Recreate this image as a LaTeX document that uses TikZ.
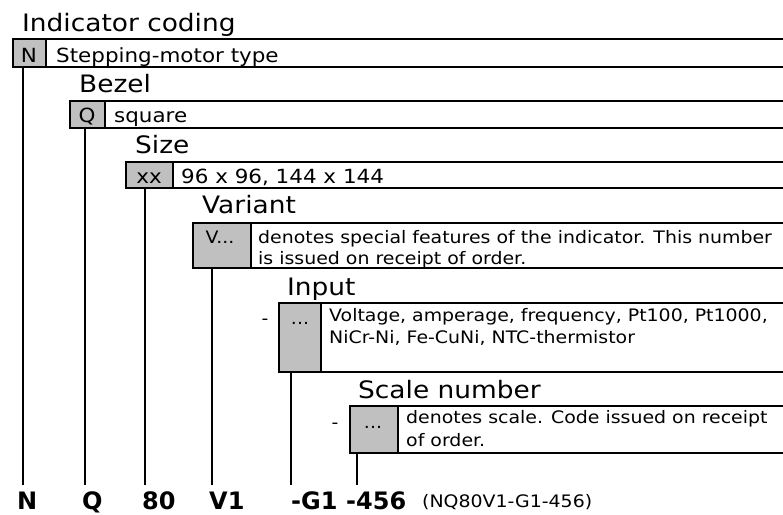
\documentclass[tikz,border=0pt]{standalone}
\usepackage{fontspec}
\setmainfont{DejaVu Sans}[FakeStretch=1.1]
\newfontfamily\labfont{DejaVu Sans}
\definecolor{boxgrey}{HTML}{C0C0C0}
\tikzset{
  titletext/.style={anchor=base west, inner sep=0pt, font=\fontsize{24}{28}\selectfont},
  rowtext/.style={anchor=base west, inner sep=0pt, font=\fontsize{19.5}{23}\selectfont},
  rowlab/.style={anchor=base, inner sep=0pt, font=\fontsize{19.5}{23}\selectfont},
  desctext/.style={anchor=base west, inner sep=0pt, font=\fontsize{17.2}{22}\selectfont},
  desclab/.style={anchor=base, inner sep=0pt, font=\fontsize{17.2}{22}\selectfont},
  codetext/.style={anchor=base west, inner sep=0pt, font=\labfont\bfseries\fontsize{24}{28}\selectfont},
  rowbox/.style={draw, line width=2pt, anchor=north west, inner sep=0pt},
  greybox/.style={draw, line width=2pt, fill=boxgrey, anchor=north west, inner sep=0pt},
  leader/.style={line width=2pt}
}
\begin{document}
\begin{tikzpicture}[x=1pt,y=-1pt]
\useasboundingbox (0,0) rectangle (783,514);

% titles
\node[titletext] (tInd) at (22,31) {Indicator coding};
\node[titletext] (tBez) at (79,92) {Bezel};
\node[titletext] (tSize) at (135,153) {Size};
\node[titletext] (tVar) at (202,213) {Variant};
\node[titletext] (tIn) at (287,295) {Input};
\node[titletext] (tSc) at (358,398) {Scale number};

% row 1
\node[rowbox, minimum width=774pt, minimum height=28pt] (rN) at (12,38) {};
\node[greybox, minimum width=33pt, minimum height=28pt] (gN) at (12,38) {};
\node[rowlab] (lN) at (29,62) {N};
\node[rowtext] (dN) at (56,62) {Stepping-motor type};

% row 2
\node[rowbox, minimum width=717pt, minimum height=27pt] (rQ) at (69,100) {};
\node[greybox, minimum width=35pt, minimum height=27pt] (gQ) at (69,100) {};
\node[rowlab] (lQ) at (87,122) {Q};
\node[rowtext] (dQ) at (114,122) {square};

% row 3
\node[rowbox, minimum width=661pt, minimum height=26pt] (rS) at (125,161) {};
\node[greybox, minimum width=47pt, minimum height=26pt] (gS) at (125,161) {};
\node[rowlab] (lS) at (149,183) {xx};
\node[rowtext] (dS) at (181,183) {96 x 96, 144 x 144};

% row 4
\node[rowbox, minimum width=594pt, minimum height=45pt] (rV) at (192,222) {};
\node[greybox, minimum width=58pt, minimum height=45pt] (gV) at (192,222) {};
\node[desclab] (lV) at (220,243) {V...};
\node[desctext] (dV1) at (258,243) {denotes special features of the indicator. This number};
\node[desctext] (dV2) at (258,264) {is issued on receipt of order.};

% row 5
\node[desclab] (hIn) at (265,324) {-};
\node[rowbox, minimum width=508pt, minimum height=69pt] (rIn) at (278,302) {};
\node[greybox, minimum width=42pt, minimum height=69pt] (gIn) at (278,302) {};
\node[desclab] (lIn) at (300,324) {...};
\node[desctext] (dIn1) at (329,321) {Voltage, amperage, frequency, Pt100, Pt1000,};
\node[desctext] (dIn2) at (329,343) {NiCr-Ni, Fe-CuNi, NTC-thermistor};

% row 6
\node[desclab] (hSc) at (335,428) {-};
\node[rowbox, minimum width=437pt, minimum height=47pt] (rSc) at (349,405) {};
\node[greybox, minimum width=48pt, minimum height=47pt] (gSc) at (349,405) {};
\node[desclab] (lSc) at (373,428) {...};
\node[desctext] (dSc1) at (406,423) {denotes scale. Code issued on receipt};
\node[desctext] (dSc2) at (406,446) {of order.};

% leader ends
\coordinate (eN) at (23,485);
\coordinate (eQ) at (85,485);
\coordinate (eS) at (145,485);
\coordinate (eV) at (212,485);
\coordinate (eIn) at (291,485);
\coordinate (eSc) at (357,485);

\draw[leader] (gN.south -| eN) -- (eN);
\draw[leader] (gQ.south -| eQ) -- (eQ);
\draw[leader] (gS.south -| eS) -- (eS);
\draw[leader] (gV.south -| eV) -- (eV);
\draw[leader] (gIn.south -| eIn) -- (eIn);
\draw[leader] (gSc.south -| eSc) -- (eSc);

% code
\node[codetext] (cN) at (17,509) {N};
\node[codetext] (cQ) at (82,509) {Q};
\node[codetext] (c80) at (142,509) {80};
\node[codetext] (cV) at (209,509) {V1};
\node[codetext] (cG) at (291,509) {-G1};
\node[codetext] (cSc) at (346,509) {-456};
\node[desctext] (cAll) at (422,507) {(NQ80V1-G1-456)};
\end{tikzpicture}
\end{document}
